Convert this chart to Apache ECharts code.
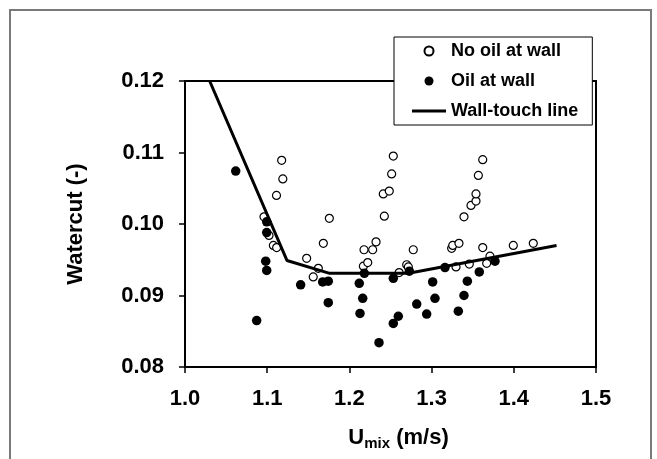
<!DOCTYPE html>
<html><head><meta charset="utf-8">
<script src="https://cdn.jsdelivr.net/npm/echarts@6/dist/echarts.min.js"></script>
<style>html,body{margin:0;padding:0;background:#fff}#c{width:657px;height:459px}</style>
</head><body><div id="c"></div>
<script>
// ---- data ----
const xTickLabels = ['1.0', '1.1', '1.2', '1.3', '1.4', '1.5'];
const yTickLabels = ['0.08', '0.09', '0.10', '0.11', '0.12'];
const seriesNames = ['No oil at wall', 'Oil at wall', 'Wall-touch line'];

const noOilAtWall = [
  [1.0961, 0.1010], [1.1022, 0.0984], [1.1075, 0.0970], [1.1115, 0.0967],
  [1.1113, 0.1040], [1.1176, 0.1089], [1.1190, 0.1063], [1.1480, 0.0952],
  [1.1560, 0.0926], [1.1622, 0.0938], [1.1683, 0.0973], [1.1756, 0.1008],
  [1.2170, 0.0941], [1.2178, 0.0964], [1.2223, 0.0946], [1.2283, 0.0964],
  [1.2324, 0.0975], [1.2412, 0.1042], [1.2425, 0.1011], [1.2485, 0.1046],
  [1.2514, 0.1070], [1.2534, 0.1095], [1.2605, 0.0932], [1.2697, 0.0943],
  [1.2717, 0.0940], [1.2777, 0.0964], [1.3244, 0.0966], [1.3257, 0.0970],
  [1.3297, 0.0940], [1.3333, 0.0973], [1.3394, 0.1010], [1.3459, 0.0944],
  [1.3479, 0.1026], [1.3540, 0.1032], [1.3540, 0.1042], [1.3569, 0.1068],
  [1.3622, 0.1090], [1.3622, 0.0967], [1.3670, 0.0945], [1.3710, 0.0955],
  [1.3994, 0.0970], [1.4237, 0.0973]
];

const oilAtWall = [
  [1.0617, 0.1074], [1.0872, 0.0865], [1.0982, 0.0948], [1.0994, 0.0935],
  [1.0994, 0.1003], [1.0994, 0.0988], [1.1407, 0.0915], [1.1675, 0.0919],
  [1.1743, 0.0920], [1.1743, 0.0890], [1.2120, 0.0917], [1.2129, 0.0875],
  [1.2162, 0.0896], [1.2182, 0.0931], [1.2360, 0.0834], [1.2534, 0.0924],
  [1.2534, 0.0861], [1.2595, 0.0871], [1.2729, 0.0934], [1.2819, 0.0888],
  [1.2940, 0.0874], [1.3013, 0.0919], [1.3041, 0.0896], [1.3163, 0.0939],
  [1.3325, 0.0878], [1.3394, 0.0900], [1.3435, 0.0920], [1.3580, 0.0933],
  [1.3771, 0.0948]
];

const wallTouchLine = [
  [1.030, 0.1200], [1.124, 0.0949], [1.176, 0.0931], [1.272, 0.0931], [1.452, 0.0970]
];

// ---- chart ----
const FONT = '"Liberation Sans", Arial, sans-serif';
const chart = echarts.init(document.getElementById('c'), null, {renderer: 'canvas'});
chart.setOption({
  animation: false,
  backgroundColor: '#fff',
  textStyle: {fontFamily: FONT, color: '#000'},
  graphic: [{
    type: 'rect', silent: true, z: -10,
    shape: {x: 10, y: 10, width: 641, height: 470},
    style: {fill: 'none', stroke: '#7a7a7a', lineWidth: 2}
  }],
  grid: {
    left: 185, top: 81, width: 411, height: 286,
    show: true, borderColor: '#000', borderWidth: 2, backgroundColor: 'transparent',
    containLabel: false, outerBoundsMode: 'none'
  },
  legend: {
    data: [
      {name: seriesNames[0], icon: 'circle'},
      {name: seriesNames[1], icon: 'circle'},
      {name: seriesNames[2], icon: 'path://M0,0H34V3H0Z'}
    ],
    orient: 'vertical',
    left: 394, top: 37,
    padding: [5, 14, 5, 18],
    itemGap: 12,
    itemWidth: 34, itemHeight: 9,
    backgroundColor: '#fff', borderColor: '#000', borderWidth: 1,
    textStyle: {fontFamily: FONT, fontSize: 18, fontWeight: 'bold', color: '#000'},
    selectedMode: false, z: 10
  },
  xAxis: {
    type: 'value', min: 1.0, max: 1.5, interval: 0.1,
    name: '{a|U}{b|mix}{a| (m/s)}',
    nameLocation: 'middle', nameGap: 58,
    nameTextStyle: {
      padding: [0, 0, 0, 16],
      rich: {
        a: {fontFamily: FONT, fontSize: 22, fontWeight: 'bold', color: '#000', lineHeight: 26},
        b: {fontFamily: FONT, fontSize: 15, fontWeight: 'bold', color: '#000', lineHeight: 8, verticalAlign: 'bottom'}
      }
    },
    axisLine: {show: true, onZero: false, lineStyle: {color: '#000', width: 2}},
    axisTick: {show: true, inside: false, length: 6, lineStyle: {color: '#000', width: 1.5}},
    axisLabel: {
      margin: 21, fontFamily: FONT, fontSize: 22, fontWeight: 'bold', color: '#000',
      formatter: function (v) { const i = Math.round((v - 1.0) / 0.1); return xTickLabels[i] !== undefined ? xTickLabels[i] : v.toFixed(1); }
    },
    splitLine: {show: false}
  },
  yAxis: {
    type: 'value', min: 0.08, max: 0.12, interval: 0.01,
    name: 'Watercut (-)',
    nameLocation: 'middle', nameGap: 98, nameRotate: 90,
    nameTextStyle: {fontFamily: FONT, fontSize: 22, fontWeight: 'bold', color: '#000'},
    axisLine: {show: true, onZero: false, lineStyle: {color: '#000', width: 2}},
    axisTick: {show: true, inside: false, length: 6, lineStyle: {color: '#000', width: 1.5}},
    axisLabel: {
      margin: 21, padding: [4, 0, 0, 0], fontFamily: FONT, fontSize: 22, fontWeight: 'bold', color: '#000',
      formatter: function (v) { const i = Math.round((v - 0.08) / 0.01); return yTickLabels[i] !== undefined ? yTickLabels[i] : v.toFixed(2); }
    },
    splitLine: {show: false}
  },
  series: [
    {
      name: seriesNames[0], type: 'scatter', data: noOilAtWall,
      symbol: 'circle', symbolSize: 8,
      itemStyle: {color: '#fff', borderColor: '#000', borderWidth: 1.2, opacity: 1},
      z: 2
    },
    {
      name: seriesNames[1], type: 'scatter', data: oilAtWall,
      symbol: 'circle', symbolSize: 9.5,
      itemStyle: {color: '#000', borderColor: '#000', borderWidth: 0, opacity: 1},
      z: 3
    },
    {
      name: seriesNames[2], type: 'line', data: wallTouchLine,
      symbol: 'none', showSymbol: false,
      lineStyle: {color: '#000', width: 3},
      itemStyle: {color: '#000'},
      z: 4
    }
  ]
});
</script>
</body></html>
